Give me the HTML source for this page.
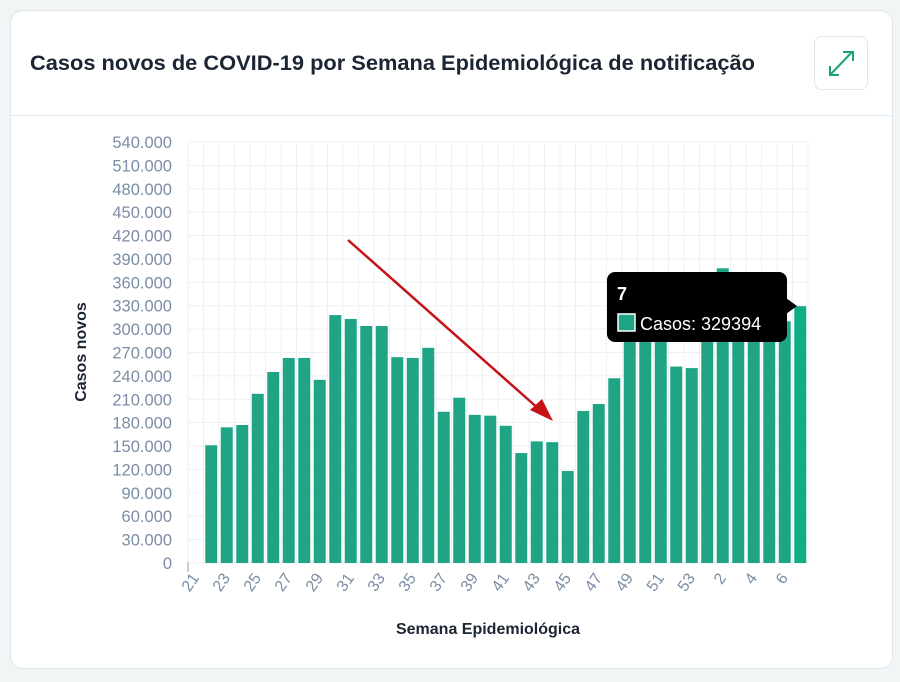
<!DOCTYPE html>
<html><head><meta charset="utf-8"><style>
html,body{margin:0;padding:0;background:#f3f6f6;width:900px;height:682px;overflow:hidden}
svg{display:block}
</style></head><body>
<svg width="900" height="682" xmlns="http://www.w3.org/2000/svg" font-family="Liberation Sans, sans-serif">
<rect x="0" y="0" width="900" height="682" fill="#f2f5f5"/>
<rect x="10.5" y="10.5" width="882" height="658" rx="12" fill="#fff" stroke="#dde6ee"/>
<line x1="11" y1="115.5" x2="892" y2="115.5" stroke="#e5edf3"/>
<text x="30" y="70" font-size="21" font-weight="bold" fill="#1b2533" textLength="725" lengthAdjust="spacingAndGlyphs">Casos novos de COVID-19 por Semana Epidemiológica de notificação</text>
<rect x="814.5" y="36.5" width="53" height="53" rx="7" fill="#fff" stroke="#dde6ee"/>
<g stroke="#1aa37a" stroke-width="2" fill="none">
<line x1="830" y1="75" x2="852" y2="52"/>
<polyline points="843,52 853,52 853,61"/>
<polyline points="830,66 830,75 839,75"/>
</g>
<g id="grid" stroke="#edf1f6" stroke-width="1"></g>
<g id="ylab" font-size="16.5" fill="#7b8da6" text-anchor="end"></g>
<g id="bars" fill="#1fa585"></g>
<g id="xlab" font-size="16" fill="#7b8da6"></g>
<line x1="188" y1="562" x2="188" y2="572" stroke="#999"/>
<text x="0" y="0" transform="translate(86,352) rotate(-90)" text-anchor="middle" font-size="16" font-weight="bold" fill="#1b2533">Casos novos</text>
<text x="488" y="634" text-anchor="middle" font-size="16" font-weight="bold" fill="#1b2533">Semana Epidemiológica</text>
<line x1="348" y1="240" x2="540" y2="410" stroke="#c41418" stroke-width="2.5"/>
<polygon points="553,421 530,410 542,399" fill="#c41418"/>
<rect x="607" y="272" width="180" height="70" rx="8" fill="#000"/>
<polygon points="786,298 797,306 786,314" fill="#000"/>
<text x="617" y="300" font-size="18" font-weight="bold" fill="#fff">7</text>
<rect x="618" y="314" width="17" height="17" fill="#1fa585" stroke="#fff" stroke-width="1.5"/>
<text x="640" y="330" font-size="18" fill="#fff">Casos: 329394</text>
</svg>
<script>
var NS="http://www.w3.org/2000/svg";
function el(p,t,a,txt){var e=document.createElementNS(NS,t);for(var k in a)e.setAttribute(k,a[k]);if(txt!=null)e.textContent=txt;document.getElementById(p).appendChild(e);return e;}
var y0=563,ppv=421/540000;
for(var v=0;v<=540000;v+=30000){var y=y0-v*ppv;el("grid","line",{x1:188,x2:808,y1:y,y2:y});
el("ylab","text",{x:172,y:y+6},v==0?"0":(v/1000)+".000");}
for(var i=0;i<=40;i++){var x=188+15.5*i;el("grid","line",{x1:x,x2:x,y1:142,y2:563});}
var vals=[0,151,174,177,217,245,263,263,235,318,313,304,304,264,263,276,194,212,190,189,176,141,156,155,118,195,204,237,310,320,320,252,250,340,378,340,340,330,310,329.394];
var labs=[];for(var w=21;w<=53;w++)labs.push(w);for(var w=1;w<=7;w++)labs.push(w);
for(var i=0;i<40;i++){var c=195.75+15.5*i;var h=vals[i]*1000*ppv;
if(h>0)el("bars","rect",{x:c-6,y:y0-h,width:12,height:h,fill:i==39?"#10ad84":"#1fa585"});
if(i%2==0){el("xlab","text",{x:0,y:0,transform:"translate("+(c+4)+",578) rotate(-55)","text-anchor":"end"},labs[i]);}}
</script>
</body></html>
